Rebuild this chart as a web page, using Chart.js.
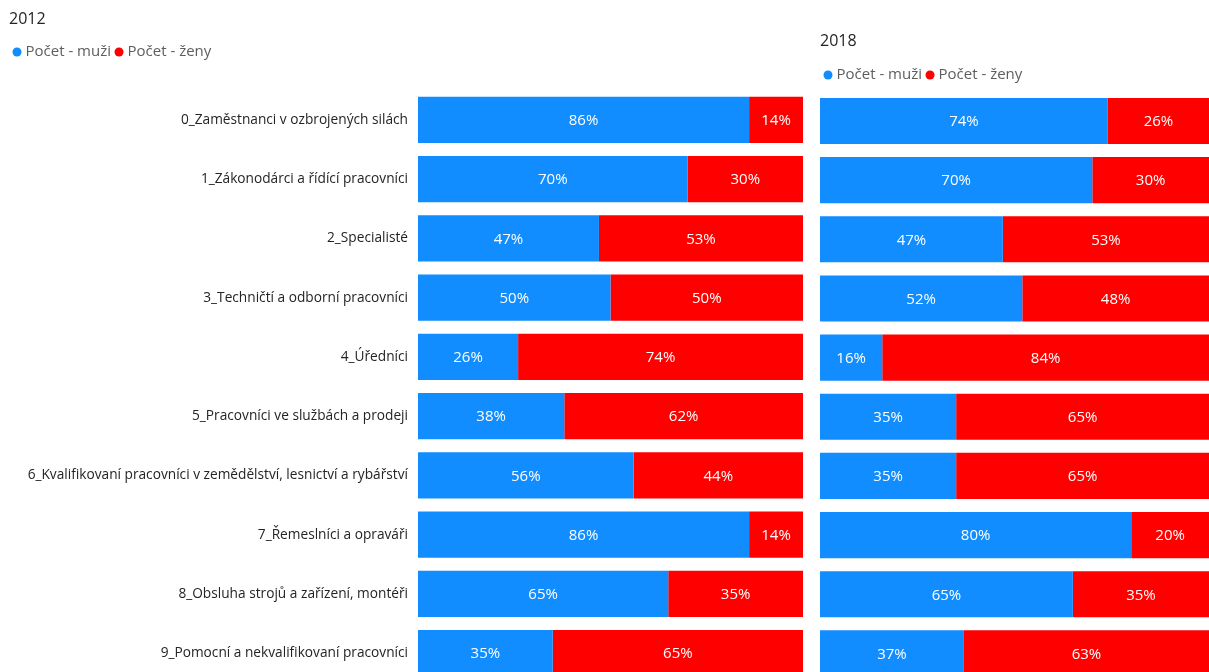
<!DOCTYPE html>
<html>
<head>
<meta charset="utf-8">
<script src="https://cdn.jsdelivr.net/npm/chart.js@4.4.1/dist/chart.umd.min.js"></script>
<style>
  html, body { margin: 0; padding: 0; background: #fff; overflow: hidden; }
  body { width: 1209px; height: 672px; position: relative; }
  .box { position: absolute; top: 0; }
  #left { left: 0; width: 805px; height: 701px; }
  #right { left: 811px; width: 398px; height: 690px; }
</style>
</head>
<body>
<div class="box" id="left"><canvas id="c2012"></canvas></div>
<div class="box" id="right"><canvas id="c2018"></canvas></div>
<script>
// Occupational groups (CZ-ISCO major groups)
const categories = [
  "0_Zaměstnanci v ozbrojených silách",
  "1_Zákonodárci a řídící pracovníci",
  "2_Specialisté",
  "3_Techničtí a odborní pracovníci",
  "4_Úředníci",
  "5_Pracovníci ve službách a prodeji",
  "6_Kvalifikovaní pracovníci v zemědělství, lesnictví a rybářství",
  "7_Řemeslníci a opraváři",
  "8_Obsluha strojů a zařízení, montéři",
  "9_Pomocní a nekvalifikovaní pracovníci"
];
const seriesNames = ["Počet - muži", "Počet - ženy"];

// Share of men / women in each group, percent
const men2012   = [86, 70, 47, 50, 26, 38, 56, 86, 65, 35];
const women2012 = [14, 30, 53, 50, 74, 62, 44, 14, 35, 65];
const men2018   = [74, 70, 47, 52, 16, 35, 35, 80, 65, 37];
const women2018 = [26, 30, 53, 48, 84, 65, 65, 20, 35, 63];

const BLUE = "#118DFF";
const RED = "#FF0000";
const FONT = "'Open Sans', 'Noto Sans', sans-serif";

Chart.defaults.font.family = FONT;
Chart.defaults.animation = false;

// Writes each segment's percentage in the middle of its bar
const barLabels = {
  id: "barLabels",
  afterDatasetsDraw(chart) {
    const ctx = chart.ctx;
    ctx.save();
    ctx.fillStyle = "#FFFFFF";
    ctx.font = "15px " + FONT;
    ctx.textAlign = "center";
    ctx.textBaseline = "middle";
    chart.data.datasets.forEach((ds, i) => {
      chart.getDatasetMeta(i).data.forEach((bar, j) => {
        const v = ds.data[j];
        if (!v) return;
        ctx.fillText(v + "%", (bar.x + bar.base) / 2, bar.y + 1);
      });
    });
    ctx.restore();
  }
};

// Extra room below the legend so both plots start at the same height
function legendSpacer(extra) {
  return {
    id: "legendSpacer",
    beforeInit(chart) {
      const orig = chart.legend.fit;
      chart.legend.fit = function () {
        orig.call(this);
        this.height += extra;
      };
    }
  };
}

function makeChart(canvasId, title, men, women, opts) {
  return new Chart(document.getElementById(canvasId), {
    type: "bar",
    data: {
      labels: categories,
      datasets: [
        { label: seriesNames[0], data: men, backgroundColor: BLUE },
        { label: seriesNames[1], data: women, backgroundColor: RED }
      ]
    },
    options: {
      indexAxis: "y",
      responsive: true,
      maintainAspectRatio: false,
      events: [],
      layout: { padding: opts.padding },
      datasets: { bar: { barPercentage: 0.78, categoryPercentage: 1 } },
      scales: {
        x: {
          stacked: true, min: 0, max: 100,
          display: false
        },
        y: {
          stacked: true,
          display: opts.showLabels,
          grid: { display: false, drawTicks: false },
          border: { display: false },
          ticks: { color: "#252423", font: { size: 13.7 }, padding: 10 },
          afterFit(scale) { if (opts.showLabels) scale.width = opts.axisWidth; }
        }
      },
      plugins: {
        title: {
          display: true, text: title, align: "start",
          color: "#252423", font: { size: 16, weight: "normal" },
          padding: opts.titlePad
        },
        legend: {
          display: true, align: "start",
          labels: {
            usePointStyle: true, pointStyle: "circle",
            boxWidth: 2, boxHeight: 6.4,
            color: "#605E5C", font: { size: 15 },
            padding: 7
          }
        },
        tooltip: { enabled: false }
      }
    },
    plugins: [barLabels, legendSpacer(opts.legendExtra)]
  });
}

makeChart("c2012", "2012", men2012, women2012, {
  padding: { left: 9, right: 2, top: 0, bottom: 0 },
  showLabels: true, axisWidth: 409,
  titlePad: { top: 9.4, bottom: 8.9 }, legendExtra: 20.7
});

makeChart("c2018", "2018", men2018, women2018, {
  padding: { left: 9, right: 0, top: 0, bottom: 7 },
  showLabels: false,
  titlePad: { top: 31.4, bottom: 9.9 }, legendExtra: -1.1
});
</script>
</body>
</html>
